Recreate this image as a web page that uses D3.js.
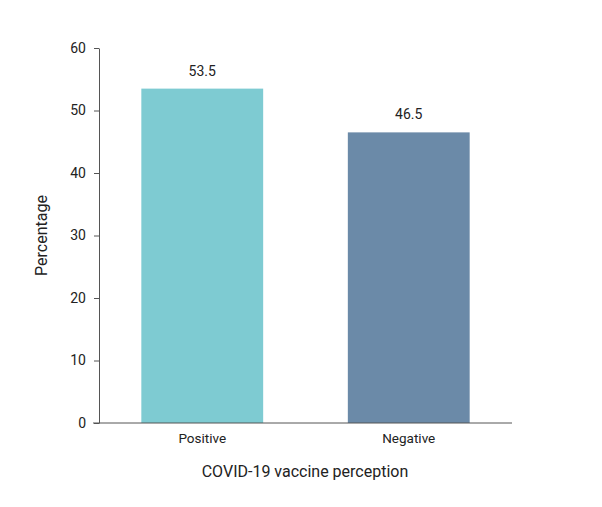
<!DOCTYPE html>
<html>
<head>
<meta charset="utf-8">
<script src="https://cdn.jsdelivr.net/npm/d3@7"></script>
<style>
  body { margin: 0; background: #fff; }
  text { font-family: Roboto, "Noto Sans", sans-serif; fill: #222; }
</style>
</head>
<body>
<svg id="chart" width="602" height="507"></svg>
<script>
var categories = ['Positive', 'Negative'];
var values = [53.5, 46.5];
var colors = ['#7ecbd2', '#6b8aa8'];
var yTicks = [0, 10, 20, 30, 40, 50, 60];

var svg = d3.select('#chart');
// note: "top" is taken by window.top, so plot_* names
var plot_left = 99, plot_right = 512, plot_top = 48, plot_bottom = 423;

var x = d3.scaleBand().domain(categories).range([plot_left, plot_right]).paddingInner(0.41).paddingOuter(0.205);
var y = d3.scaleLinear().domain([0, 60]).range([plot_bottom, plot_top]);

// bars
svg.selectAll('rect.bar').data(values).enter().append('rect')
    .attr('class', 'bar')
    .attr('x', function(d, i) { return x(categories[i]); })
    .attr('y', function(d) { return y(d); })
    .attr('width', x.bandwidth())
    .attr('height', function(d) { return y(0) - y(d); })
    .attr('fill', function(d, i) { return colors[i]; });

// value labels
svg.selectAll('text.val').data(values).enter().append('text')
    .attr('class', 'val')
    .attr('x', function(d, i) { return x(categories[i]) + x.bandwidth() / 2; })
    .attr('y', function(d) { return y(d) - 13; })
    .attr('text-anchor', 'middle')
    .attr('font-size', 14)
    .text(function(d) { return d3.format('.1f')(d); });

// y axis
var yAxis = d3.axisLeft(y).tickValues(yTicks).tickSize(5).tickPadding(8).tickSizeOuter(0);
var gy = svg.append('g').attr('transform', 'translate(' + plot_left + ',0)').call(yAxis);
gy.select('.domain').attr('stroke', '#555');
gy.selectAll('.tick line').attr('stroke', '#555');
gy.selectAll('.tick text').attr('font-size', 14).attr('fill', '#222')
    .style('font-family', 'Roboto, sans-serif');

// x axis line, a bit past the y axis on the left
svg.append('line')
    .attr('x1', plot_left - 6).attr('x2', plot_right)
    .attr('y1', plot_bottom).attr('y2', plot_bottom)
    .attr('stroke', '#555');

svg.selectAll('text.cat').data(categories).enter().append('text')
    .attr('class', 'cat')
    .attr('x', function(d) { return x(d) + x.bandwidth() / 2; })
    .attr('y', plot_bottom + 20)
    .attr('text-anchor', 'middle')
    .attr('font-size', 13.5)
    .text(function(d) { return d; });

// titles
svg.append('text')
    .attr('x', 305).attr('y', 477)
    .attr('text-anchor', 'middle')
    .attr('font-size', 16)
    .text('COVID-19 vaccine perception');

svg.append('text')
    .attr('transform', 'translate(47,' + ((plot_top + plot_bottom) / 2) + ') rotate(-90)')
    .attr('text-anchor', 'middle')
    .attr('font-size', 16)
    .text('Percentage');
</script>
</body>
</html>
